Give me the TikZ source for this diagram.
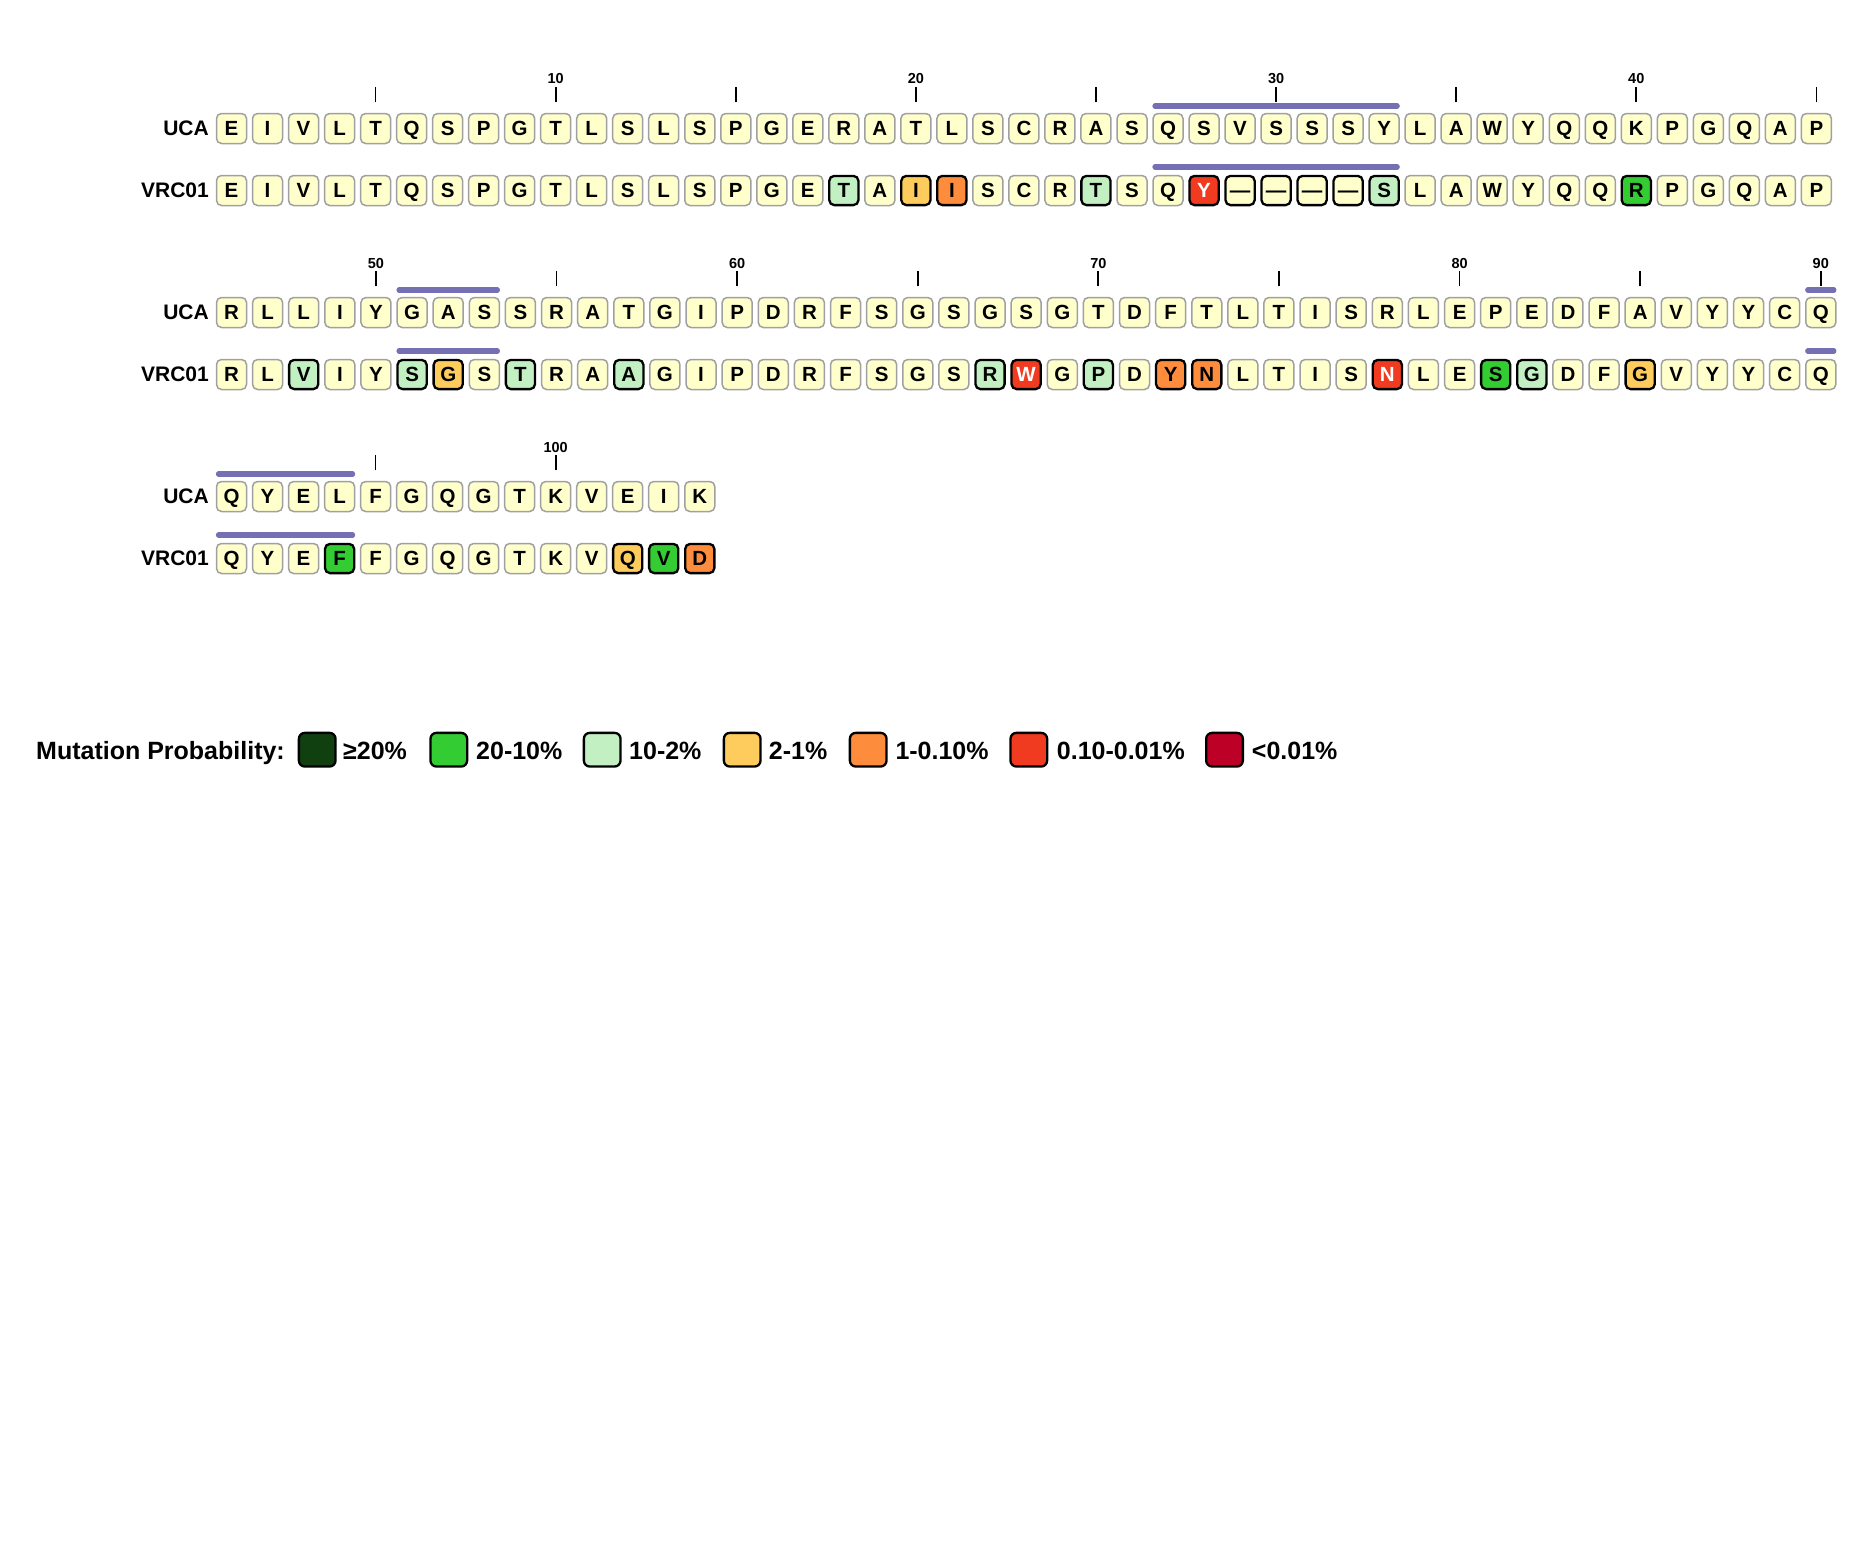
\documentclass[tikz,border=0pt]{standalone}
\usepackage{fontspec}
\setmainfont{Liberation Sans}
\definecolor{cream}{HTML}{FFFFCC}
\definecolor{boxgray}{HTML}{A0A0A0}
\definecolor{pA}{HTML}{104010}
\definecolor{pB}{HTML}{33CC33}
\definecolor{pC}{HTML}{C2F0C2}
\definecolor{pD}{HTML}{FECC5C}
\definecolor{pE}{HTML}{FD8D3C}
\definecolor{pF}{HTML}{F03B20}
\definecolor{pG}{HTML}{BD0026}
\definecolor{cdrpurple}{HTML}{7570B3}
\tikzset{
  aa/.style={rectangle, rounded corners=5pt, inner sep=0pt, outer sep=0pt,
    minimum width=30pt, minimum height=30pt, text height=14.7pt, text depth=0pt,
    font=\fontsize{20.5}{24}\selectfont\bfseries},
  nrm/.style={aa, fill=cream, draw=boxgray, line width=1.5pt},
  mut/.style={aa, draw=black, line width=2.3pt, minimum width=29.2pt, minimum height=29.2pt},
  p1/.style={mut, fill=pA, text=white},
  p2/.style={mut, fill=pB},
  p3/.style={mut, fill=pC},
  p4/.style={mut, fill=pD},
  p5/.style={mut, fill=pE},
  p6/.style={mut, fill=pF, text=white},
  p7/.style={mut, fill=pG, text=white},
  gp/.style={mut, fill=cream},
  rowlab/.style={anchor=east, inner sep=0pt, text height=14.7pt, text depth=0pt,
    font=\fontsize{21}{24}\selectfont\bfseries},
  tickmark/.style={line width=1.8pt, draw=black},
  ticklab/.style={anchor=base, inner sep=0pt, font=\fontsize{14.5}{16}\selectfont\bfseries},
  cdr/.style={line width=5.3pt, line cap=round, draw=cdrpurple},
  legbox/.style={rectangle, rounded corners=6pt, draw=black, line width=2.3pt,
    minimum width=36.7pt, minimum height=33.7pt, inner sep=0pt, outer sep=0pt},
  legtxt/.style={anchor=base west, inner sep=0pt, font=\fontsize{25}{30}\selectfont\bfseries},
}
\begin{document}
\begin{tikzpicture}[x=1pt, y=-1pt]
\fill[white] (0,0) rectangle (1876,1563);
\useasboundingbox (0,0) rectangle (1876,1563);

% row labels
\node[rowlab] (lu1) at (209,128.5) {UCA};
\node[rowlab] (lv1) at (209,190.5) {VRC01};
\node[rowlab] (lu2) at (209,312.5) {UCA};
\node[rowlab] (lv2) at (209,374.5) {VRC01};
\node[rowlab] (lu3) at (209,496.5) {UCA};
\node[rowlab] (lv3) at (209,558.5) {VRC01};

% block 1 (1-45)
\foreach \c [count=\i] in {E,I,V,L,T,Q,S,P,G,T,L,S,L,S,P,G,E,R,A,T,L,S,C,R,A,S,Q,S,V,S,S,S,Y,L,A,W,Y,Q,Q,K,P,G,Q,A,P}{
  \node[nrm] (u\i) at ({231.5+(\i-1)*36.02},128.5) {\c};}
\foreach \c/\s [count=\i] in {E/nrm,I/nrm,V/nrm,L/nrm,T/nrm,Q/nrm,S/nrm,P/nrm,G/nrm,T/nrm,L/nrm,S/nrm,L/nrm,S/nrm,P/nrm,G/nrm,E/nrm,T/p3,A/nrm,I/p4,I/p5,S/nrm,C/nrm,R/nrm,T/p3,S/nrm,Q/nrm,Y/p6,—/gp,—/gp,—/gp,—/gp,S/p3,L/nrm,A/nrm,W/nrm,Y/nrm,Q/nrm,Q/nrm,R/p2,P/nrm,G/nrm,Q/nrm,A/nrm,P/nrm}{
  \node[\s] (v\i) at ({231.5+(\i-1)*36.02},190.5) {\c};}

% block 2 (46-90)
\foreach \c [count=\i] in {R,L,L,I,Y,G,A,S,S,R,A,T,G,I,P,D,R,F,S,G,S,G,S,G,T,D,F,T,L,T,I,S,R,L,E,P,E,D,F,A,V,Y,Y,C,Q}{
  \pgfmathtruncatemacro\n{\i+45}
  \node[nrm] (u\n) at ({231.5+(\i-1)*36.12},312.5) {\c};}
\foreach \c/\s [count=\i] in {R/nrm,L/nrm,V/p3,I/nrm,Y/nrm,S/p3,G/p4,S/nrm,T/p3,R/nrm,A/nrm,A/p3,G/nrm,I/nrm,P/nrm,D/nrm,R/nrm,F/nrm,S/nrm,G/nrm,S/nrm,R/p3,W/p6,G/nrm,P/p3,D/nrm,Y/p5,N/p5,L/nrm,T/nrm,I/nrm,S/nrm,N/p6,L/nrm,E/nrm,S/p2,G/p3,D/nrm,F/nrm,G/p4,V/nrm,Y/nrm,Y/nrm,C/nrm,Q/nrm}{
  \pgfmathtruncatemacro\n{\i+45}
  \node[\s] (v\n) at ({231.5+(\i-1)*36.12},374.5) {\c};}

% block 3 (91-104)
\foreach \c [count=\i] in {Q,Y,E,L,F,G,Q,G,T,K,V,E,I,K}{
  \pgfmathtruncatemacro\n{\i+90}
  \node[nrm] (u\n) at ({231.5+(\i-1)*36.02},496.5) {\c};}
\foreach \c/\s [count=\i] in {Q/nrm,Y/nrm,E/nrm,F/p2,F/nrm,G/nrm,Q/nrm,G/nrm,T/nrm,K/nrm,V/nrm,Q/p4,V/p2,D/p5}{
  \pgfmathtruncatemacro\n{\i+90}
  \node[\s] (v\n) at ({231.5+(\i-1)*36.02},558.5) {\c};}

% ticks and numbers
\foreach \n in {5,10,...,100}{
  \draw[tickmark] ([yshift=26.2pt]u\n.center) -- ([yshift=41.2pt]u\n.center);}
\foreach \n in {10,20,...,100}{
  \node[ticklab] (tl\n) at ([yshift=44.5pt]u\n.center) {\n};}

% CDR bars
\foreach \a/\b in {27/33,51/53,90/90,91/94}{
  \draw[cdr] ([shift={(-13pt,22.5pt)}]u\a.center) -- ([shift={(13pt,22.5pt)}]u\b.center);
  \draw[cdr] ([shift={(-13pt,23.5pt)}]v\a.center) -- ([shift={(13pt,23.5pt)}]v\b.center);}

% legend
\node[legtxt] (legt) at (36,759.5) {Mutation Probability:};
\node[legbox, fill=pA] (lb1) at (317.2,749.7) {};
\node[legtxt] (lt1) at (343,759.5) {≥20\%};
\node[legbox, fill=pB] (lb2) at (448.8,749.7) {};
\node[legtxt] (lt2) at (476,759.5) {20-10\%};
\node[legbox, fill=pC] (lb3) at (602.2,749.7) {};
\node[legtxt] (lt3) at (629,759.5) {10-2\%};
\node[legbox, fill=pD] (lb4) at (742.2,749.7) {};
\node[legtxt] (lt4) at (768.7,759.5) {2-1\%};
\node[legbox, fill=pE] (lb5) at (868.2,749.7) {};
\node[legtxt] (lt5) at (895.3,759.5) {1-0.10\%};
\node[legbox, fill=pF] (lb6) at (1028.8,749.7) {};
\node[legtxt] (lt6) at (1056.7,759.5) {0.10-0.01\%};
\node[legbox, fill=pG] (lb7) at (1224.5,749.7) {};
\node[legtxt] (lt7) at (1251.7,759.5) {<0.01\%};
\end{tikzpicture}
\end{document}
